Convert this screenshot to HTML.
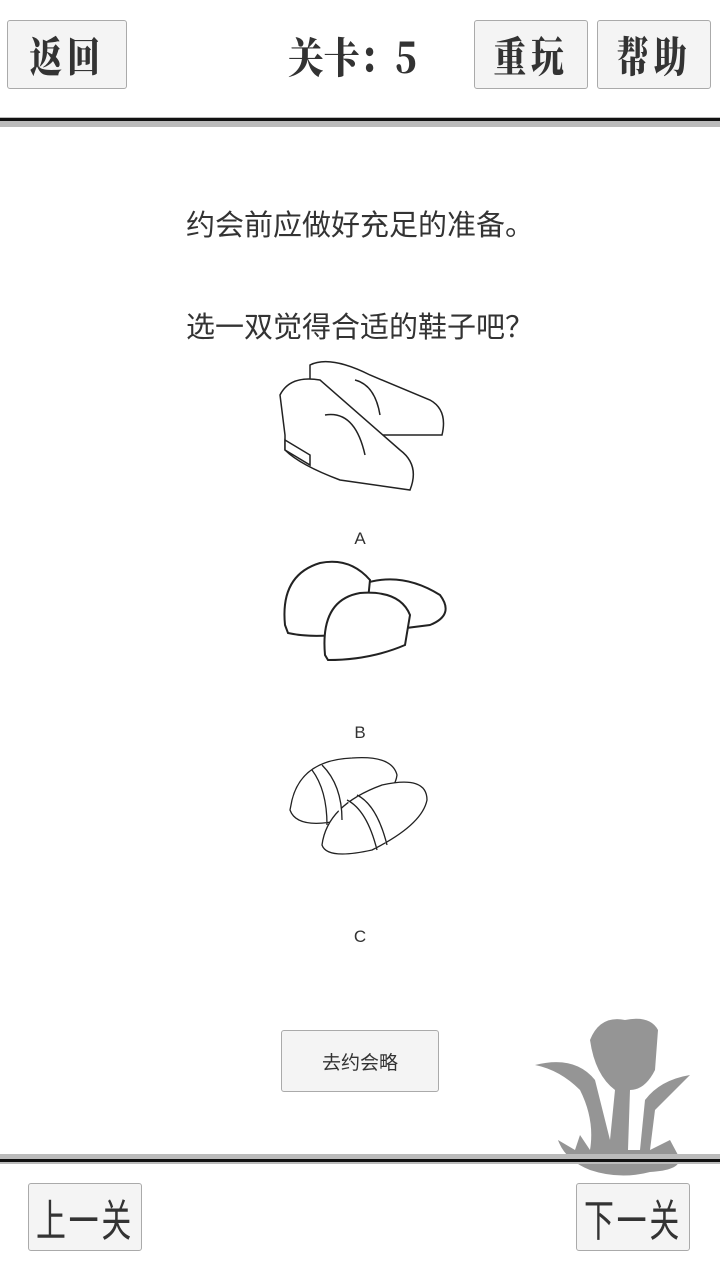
<!DOCTYPE html>
<html><head><meta charset="utf-8"><style>
body{margin:0;width:720px;height:1280px;background:#fff;position:relative;overflow:hidden;font-family:"Liberation Sans","Noto Sans CJK SC",sans-serif;color:#333}
.b{position:absolute;background:#f4f4f4;border:1px solid #aaa;border-radius:3px;box-sizing:border-box;display:flex;align-items:center;justify-content:center;font-family:"Noto Serif CJK SC","Noto Sans CJK SC",serif;font-weight:900;color:#333;white-space:nowrap}
.b span{display:inline-block;transform:scaleX(0.78)}
.t{position:absolute;left:0;width:720px;text-align:center;font-size:29px;white-space:nowrap}
.l{position:absolute;font-size:17px;left:0;width:720px;text-align:center}
</style></head><body>
<div class="b" style="left:7px;top:20px;width:120px;height:69px;font-size:42px;letter-spacing:6px"><span>返回</span></div>
<div style="position:absolute;left:288px;top:26px;font-size:42px;font-weight:900;font-family:'Noto Serif CJK SC',serif;color:#333;transform:scaleX(0.85);transform-origin:left;white-space:nowrap">关卡：5</div>
<div class="b" style="left:474px;top:20px;width:114px;height:69px;font-size:42px;letter-spacing:6px"><span>重玩</span></div>
<div class="b" style="left:597px;top:20px;width:114px;height:69px;font-size:42px;letter-spacing:6px"><span>帮助</span></div>
<div style="position:absolute;left:0;top:117px;width:720px;height:10px;background:#bbb"></div>
<div style="position:absolute;left:0;top:118px;width:720px;height:3px;background:#111"></div>
<div class="t" style="top:202px">约会前应做好充足的准备。</div>
<div class="t" style="top:304px">选一双觉得合适的鞋子吧？</div>
<svg style="position:absolute;left:270px;top:355px" width="190" height="145" fill="#fff" stroke="#222" stroke-width="1.5">
<path d="M40 10 Q60 0 100 20 L160 45 Q178 55 172 80 L100 80 Q60 60 40 40 Z"/>
<path d="M10 40 Q20 20 50 25 L130 95 Q150 110 140 135 L70 125 Q30 110 15 95 L15 80 Z"/>
<path d="M15 85 L40 100 L40 110 L15 95 Z"/>
<path d="M85 25 Q105 30 110 60 M55 60 Q85 55 95 100"/>
</svg>
<div class="l" style="top:529px">A</div>
<svg style="position:absolute;left:280px;top:555px" width="180" height="110" fill="#fff" stroke="#222" stroke-width="2">
<path d="M80 30 Q120 15 160 40 Q175 60 150 70 L110 75 Z"/>
<path d="M5 70 Q0 20 40 8 Q70 2 90 25 L85 75 Q40 85 8 78 Z"/>
<path d="M45 100 Q40 45 80 38 Q120 35 130 60 L125 90 Q90 105 48 105 Z"/>
</svg>
<div class="l" style="top:723px">B</div>
<svg style="position:absolute;left:282px;top:750px" width="150" height="110" fill="#fff" stroke="#222" stroke-width="1.3">
<path d="M10 50 Q20 10 70 8 Q110 5 115 25 Q112 50 60 70 Q15 80 8 60 Z"/>
<path d="M40 95 Q45 55 100 35 Q145 25 145 50 Q140 75 90 100 Q45 110 40 95 Z"/>
<path d="M30 20 Q45 40 45 75 M40 15 Q60 35 60 70 M65 50 Q85 60 95 100 M75 45 Q95 55 105 95"/>
</svg>
<div class="l" style="top:927px">C</div>
<div class="b" style="left:281px;top:1030px;width:158px;height:62px;font-family:'Liberation Sans','Noto Sans CJK SC',sans-serif;font-weight:400;font-size:19px">去约会略</div>
<svg style="position:absolute;left:530px;top:1010px" width="170" height="170" fill="#8a8a8a" opacity="0.9">
<path d="M60 30 Q70 5 95 10 Q120 5 128 20 L125 60 Q115 80 100 80 L98 140 L110 140 L115 90 Q130 70 160 65 Q140 85 125 100 L120 140 L140 130 L148 145 Q155 160 120 162 Q90 170 60 160 Q35 150 28 130 L45 140 L50 125 L60 140 Q65 110 50 80 Q30 60 5 55 Q45 45 65 70 L80 130 L85 80 Q65 65 60 30 Z"/>
</svg>
<div style="position:absolute;left:0;top:1154px;width:720px;height:10px;background:#bbb"></div>
<div style="position:absolute;left:0;top:1159px;width:720px;height:3px;background:#111"></div>
<div class="b" style="left:28px;top:1183px;width:114px;height:68px;font-family:'Noto Sans CJK SC',sans-serif;font-weight:400;font-size:44px;letter-spacing:4px"><span style="transform:scaleX(0.68)">上一关</span></div>
<div class="b" style="left:576px;top:1183px;width:114px;height:68px;font-family:'Noto Sans CJK SC',sans-serif;font-weight:400;font-size:44px;letter-spacing:4px"><span style="transform:scaleX(0.68)">下一关</span></div>
</body></html>
